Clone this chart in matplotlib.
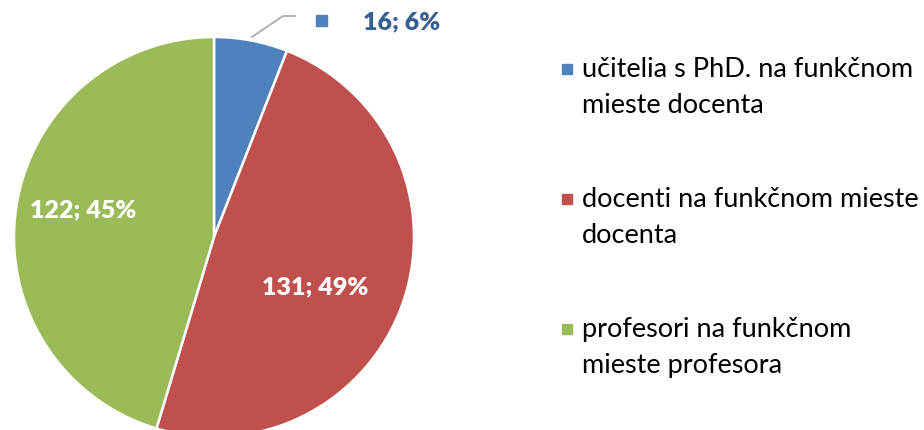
import matplotlib
matplotlib.use('Agg')
import matplotlib.pyplot as plt
from matplotlib.patches import Rectangle

# dáta
kategorie = ['učitelia s PhD. na funkčnom\nmieste docenta',
             'docenti na funkčnom mieste\ndocenta',
             'profesori na funkčnom\nmieste profesora']
pocty = [16, 131, 122]
farby = ['#4F81BD', '#C0504D', '#9BBB59']

plt.rcParams['font.family'] = ['Lato', 'DejaVu Sans']

fig = plt.figure(figsize=(9.24, 4.30), dpi=100)
ax = fig.add_axes([0, 0, 1, 1])

stred = (214, 430 - 237)
polomer = 200
ax.pie(pocty, colors=farby, startangle=90, counterclock=False,
       center=stred, radius=polomer, frame=True,
       wedgeprops=dict(edgecolor='white', linewidth=1.8))
ax.set_xlim(0, 924)
ax.set_ylim(0, 430)
ax.set_aspect('equal')
ax.axis('off')

spolu = sum(pocty)
popisky = [f'{p}; {round(p / spolu * 100)}%' for p in pocty]

# popisok mimo koláča (modrý) s odkazovou čiarou
ax.plot([252, 283, 295], [430 - 37, 430 - 16, 430 - 16], color='#A6A6A6', lw=1.2)
ax.add_patch(Rectangle((316, 430 - 26), 11, 11, color=farby[0]))
ax.text(402, 430 - 22, popisky[0], color='#376092', fontsize=18,
        fontweight=800, ha='center', va='center')
ax.text(315, 430 - 287, popisky[1], color='white', fontsize=18,
        fontweight=800, ha='center', va='center')
ax.text(83, 430 - 210, popisky[2], color='white', fontsize=18,
        fontweight=800, ha='center', va='center')

# legenda
riadky = [77, 207, 337]
for i, (kat, farba) in enumerate(zip(kategorie, farby)):
    y = riadky[i]
    ax.add_patch(Rectangle((562, 430 - y + 3), 10, 10, color=farba))
    prvy, druhy = kat.split('\n')
    ax.text(582, 430 - y, prvy, fontsize=19.5, va='baseline', ha='left', color='black')
    ax.text(582, 430 - y - 36, druhy, fontsize=19.5, va='baseline', ha='left', color='black')

fig.savefig('out.png', dpi=100)
